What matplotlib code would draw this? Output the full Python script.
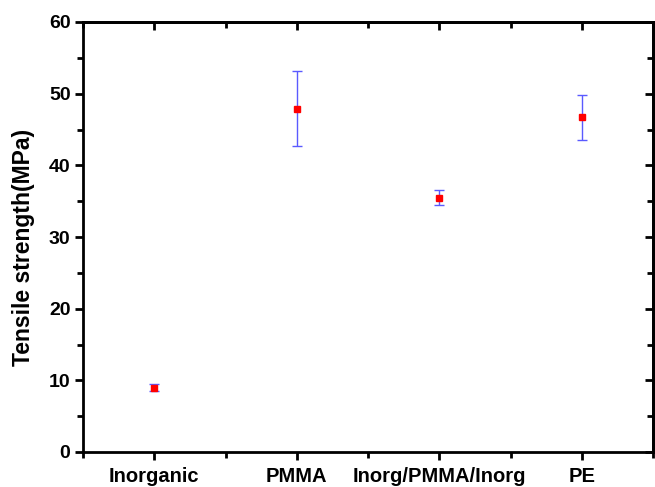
import matplotlib
matplotlib.use("Agg")
import matplotlib.pyplot as plt
from matplotlib.ticker import MultipleLocator

categories = ["Inorganic", "PMMA", "Inorg/PMMA/Inorg", "PE"]
strength = [9.0, 47.9, 35.5, 46.7]
errors = [0.55, 5.2, 1.05, 3.15]

plt.rcParams['font.family'] = ['Liberation Sans', 'DejaVu Sans']
plt.rcParams['font.weight'] = 'bold'

fig = plt.figure(figsize=(6.55, 4.87), dpi=100)
ax = fig.add_axes([83/655, 1-452/487, (653-83)/655, (452-22)/487])

x = list(range(1, len(categories) + 1))
ax.errorbar(x, strength, yerr=errors, fmt='s', color='red', markersize=4.2,
            ecolor='#5a5aff', elinewidth=1.0, capsize=3.3, capthick=1.0, zorder=3)

ax.set_xlim(0.5, 4.5)
ax.set_ylim(0, 60)
ax.set_xticks(x)
ax.set_xticklabels(categories, fontsize=14.5, fontweight='bold')
ax.xaxis.set_minor_locator(MultipleLocator(0.5))
ax.yaxis.set_major_locator(MultipleLocator(10))
ax.yaxis.set_minor_locator(MultipleLocator(5))
for lab in ax.get_yticklabels():
    lab.set_fontweight('bold')
ax.tick_params(axis='y', labelsize=14, pad=3)
ax.tick_params(axis='x', pad=5)
ax.set_ylabel("Tensile strength(MPa)", fontsize=16.5, fontweight='bold')
ax.yaxis.set_label_coords(-0.085, 0.475)

for s in ax.spines.values():
    s.set_linewidth(2.0)

ax.tick_params(which='both', direction='out', width=2.0, top=False, right=False)
ax.tick_params(which='major', length=6)
ax.tick_params(which='minor', length=4)

ax2 = ax.secondary_xaxis('top')
ax2.set_xticks(x)
ax2.xaxis.set_minor_locator(MultipleLocator(0.5))
ax2.tick_params(which='both', direction='in', width=2.0, labeltop=False)
ax2.tick_params(which='major', length=6)
ax2.tick_params(which='minor', length=4)
ax3 = ax.secondary_yaxis('right')
ax3.yaxis.set_major_locator(MultipleLocator(10))
ax3.yaxis.set_minor_locator(MultipleLocator(5))
ax3.tick_params(which='both', direction='in', width=2.0, labelright=False)
ax3.tick_params(which='major', length=6)
ax3.tick_params(which='minor', length=4)
for a in (ax2, ax3):
    for s in a.spines.values():
        s.set_linewidth(2.0)

fig.savefig("out.png", dpi=100)
